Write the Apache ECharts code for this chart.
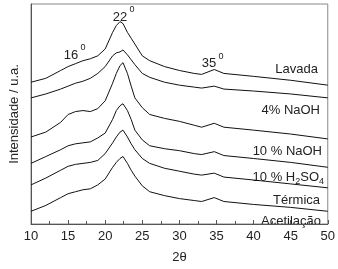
<!DOCTYPE html>
<html>
<head>
<meta charset="utf-8">
<script src="https://cdn.jsdelivr.net/npm/echarts@6/dist/echarts.min.js"></script>
<style>
  html, body { margin: 0; padding: 0; background: #fff; }
  #chart { width: 338px; height: 269px; }
</style>
</head>
<body>
<div id="chart"></div>
<script>
// 2theta positions (degrees) and stacked intensities (arbitrary units, offset per sample)
const theta = [10, 12, 14, 15, 16, 17, 18, 19, 20, 21, 21.5, 22, 22.4, 23, 23.5, 24, 25, 26, 28, 30, 32, 33, 34.7, 36, 40, 45, 50];
const lavada     = [145, 149, 157, 161, 164, 167, 169, 172, 179, 196, 203, 207, 205, 196, 190, 184, 172, 167, 161, 157, 154, 153, 158, 154, 151, 147, 142];
const naoh4      = [129, 133, 138, 141, 144, 146, 149, 154, 161, 172, 175, 176, 178, 173, 168, 163, 154, 150, 145, 142, 140, 139, 141, 138, 136, 133, 129];
const naoh10     = [89, 94, 104, 112, 115, 116, 115, 118, 126, 144, 154, 162, 165, 154, 141, 129, 119, 112, 108, 105, 101, 99, 103, 99, 96, 92, 87];
const h2so4      = [62, 69, 76, 80, 82, 83, 84, 88, 93, 107, 116, 121, 123, 116, 107, 96, 86, 80, 77, 75, 72, 71, 74, 70, 67, 63, 58];
const termica    = [40, 47, 55, 59, 61, 62, 63, 65, 72, 83, 89, 94, 96, 89, 82, 76, 67, 62, 57, 54, 51, 50, 52, 48, 45, 41, 37];
const acetilacao = [13, 19, 27, 31, 33, 35, 36, 40, 46, 58, 63, 67, 69, 62, 55, 49, 39, 33, 29, 26, 24, 23, 27, 23, 20, 17, 13];
const xTicks = [10, 15, 20, 25, 30, 35, 40, 45, 50];

const chart = echarts.init(document.getElementById('chart'));

const pair = vals => theta.map((t, i) => [t, vals[i]]);
const curve = (name, vals) => ({
  name: name,
  type: 'line',
  data: pair(vals),
  showSymbol: false,
  lineStyle: { color: '#111', width: 1 },
  silent: true
});

const txt = (x, y, text, size, align) => ({
  type: 'text',
  x: x, y: y,
  style: {
    text: text,
    fontFamily: 'Liberation Sans, Arial',
    fontSize: size,
    fill: '#222',
    align: align || 'center',
    verticalAlign: 'middle'
  }
});

const option = {
  animation: false,
  grid: {
    left: 27, right: 10, top: 4, bottom: 40,
    show: true, borderColor: '#888', borderWidth: 1
  },
  xAxis: {
    type: 'value',
    min: 10, max: 50, interval: 5,
    name: '2θ',
    nameLocation: 'middle',
    nameGap: 27,
    nameTextStyle: { fontFamily: 'Liberation Sans, Arial', fontSize: 13, color: '#222' },
    axisLine: { lineStyle: { color: '#555' } },
    axisTick: { inside: true, length: 4, lineStyle: { color: '#555' } },
    minorTick: { show: true, splitNumber: 2, length: 3, lineStyle: { color: '#555' } },
    splitLine: { show: false },
    axisLabel: {
      fontFamily: 'Liberation Sans, Arial', fontSize: 13, color: '#222', margin: 6,
      formatter: v => xTicks.includes(v) ? String(v) : ''
    }
  },
  yAxis: {
    type: 'value',
    min: 0, max: 225,
    name: 'Intensidade / u.a.',
    nameLocation: 'middle',
    nameGap: 10,
    nameTextStyle: { fontFamily: 'Liberation Sans, Arial', fontSize: 13, color: '#222' },
    axisLine: { show: true, lineStyle: { color: '#555' } },
    axisTick: { show: false },
    axisLabel: { show: false },
    splitLine: { show: false }
  },
  series: [
    curve('Lavada', lavada),
    curve('4% NaOH', naoh4),
    curve('10 % NaOH', naoh10),
    curve('10 % H2SO4', h2so4),
    curve('Térmica', termica),
    curve('Acetilação', acetilacao)
  ],
  graphic: [
    txt(71, 55, '16', 13), txt(83, 48, '0', 9),
    txt(120, 17, '22', 13), txt(132, 10, '0', 9),
    txt(209, 63, '35', 13), txt(221, 57, '0', 9),
    txt(318, 69, 'Lavada', 13, 'right'),
    txt(320, 110, '4% NaOH', 13, 'right'),
    txt(322, 151, '10 % NaOH', 13, 'right'),
    {
      type: 'text', x: 324, y: 177,
      style: {
        text: '{n|10 % H}{s|2}{n|SO}{s|4}',
        align: 'right', verticalAlign: 'middle',
        fill: '#222',
        rich: {
          n: { fontFamily: 'Liberation Sans, Arial', fontSize: 13, fill: '#222', lineHeight: 16 },
          s: { fontFamily: 'Liberation Sans, Arial', fontSize: 9, fill: '#222', padding: [9, 0, 0, 0] }
        }
      }
    },
    txt(320, 200, 'Térmica', 13, 'right'),
    txt(321, 221, 'Acetilação', 13, 'right')
  ]
};

chart.setOption(option);
</script>
</body>
</html>
